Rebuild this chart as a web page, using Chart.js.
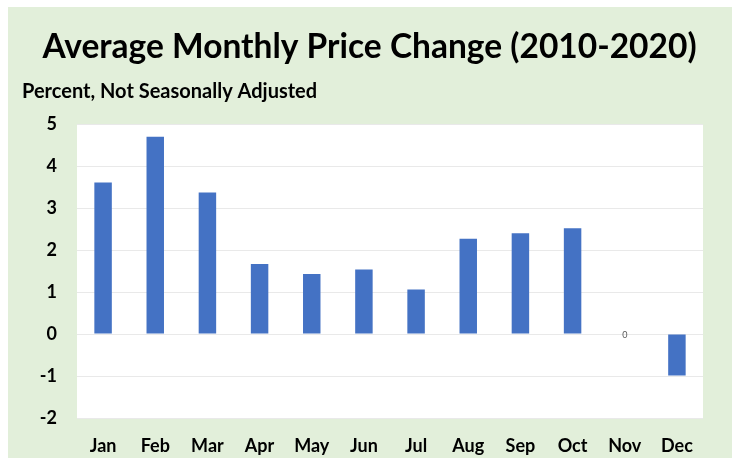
<!DOCTYPE html>
<html>
<head>
<meta charset="utf-8">
<script src="https://cdn.jsdelivr.net/npm/chart.js@4"></script>
<style>
  html, body { margin: 0; padding: 0; background: #ffffff; }
  #panel { position: absolute; left: 8px; top: 7px; width: 724px; height: 451px; background: #E2EFDA; }
  #c { display: block; }
</style>
</head>
<body>
<div id="panel"><canvas id="c" width="724" height="451"></canvas></div>
<script>
const months = ["Jan", "Feb", "Mar", "Apr", "May", "Jun", "Jul", "Aug", "Sep", "Oct", "Nov", "Dec"];
const priceChange = [3.61, 4.70, 3.37, 1.67, 1.43, 1.54, 1.06, 2.27, 2.40, 2.52, 0, -0.99];
const titleText = "Average Monthly Price Change (2010-2020)";
const subtitleText = "Percent, Not Seasonally Adjusted";
const yMin = -2, yMax = 5, yStep = 1;

const plotBg = {
  id: 'plotBg',
  beforeDraw(chart) {
    const { ctx, chartArea: a } = chart;
    ctx.save();
    ctx.fillStyle = '#ffffff';
    ctx.fillRect(a.left, a.top, a.right - a.left, a.bottom - a.top);
    ctx.restore();
  }
};

const zeroLabel = {
  id: 'zeroLabel',
  afterDatasetsDraw(chart) {
    const { ctx } = chart;
    const meta = chart.getDatasetMeta(0);
    ctx.save();
    ctx.font = '9px Lato, "Open Sans", sans-serif';
    ctx.fillStyle = '#595959';
    ctx.textAlign = 'center';
    ctx.textBaseline = 'middle';
    chart.data.datasets[0].data.forEach((v, i) => {
      if (v === 0) {
        const el = meta.data[i];
        ctx.fillText(String(v), el.x, el.y + 1);
      }
    });
    ctx.restore();
  }
};

new Chart(document.getElementById('c'), {
  type: 'bar',
  data: {
    labels: months,
    datasets: [{
      data: priceChange,
      backgroundColor: '#4472C4',
      borderWidth: 0,
      categoryPercentage: 1,
      barPercentage: 0.335,
      yAxisID: 'y'
    }]
  },
  options: {
    responsive: false,
    animation: false,
    layout: { padding: { left: 14, right: 15, top: 0, bottom: 0 } },
    plugins: {
      legend: { display: false },
      tooltip: { enabled: false },
      title: {
        display: true,
        text: titleText,
        color: '#000000',
        font: { family: 'Lato, "Open Sans", sans-serif', size: 33.5, weight: 'bold' },
        padding: { top: 20, bottom: 6 },
        align: 'center'
      },
      subtitle: {
        display: true,
        text: subtitleText,
        color: '#000000',
        align: 'start',
        font: { family: 'Lato, "Open Sans", sans-serif', size: 20, weight: 'bold' },
        padding: { top: 6, bottom: 21 }
      }
    },
    scales: {
      x: {
        grid: { display: false, drawTicks: false },
        border: { display: false },
        ticks: {
          color: '#000000',
          font: { family: 'Lato, "Open Sans", sans-serif', size: 18, weight: 'bold' },
          padding: 17
        },
        afterFit(scale) { scale.height = 40; }
      },
      y: {
        min: yMin,
        max: yMax,
        grid: { color: '#E9E9E9', lineWidth: 1, drawTicks: false },
        border: { display: false },
        ticks: {
          stepSize: yStep,
          color: '#000000',
          font: { family: 'Lato, "Open Sans", sans-serif', size: 18, weight: 'bold' },
          padding: 20
        },
        afterFit(scale) { scale.width = 55; }
      },
      yRight: {
        position: 'right',
        display: true,
        grid: { display: false, drawTicks: false },
        border: { display: false },
        ticks: { display: false },
        afterFit(scale) { scale.width = 14; }
      }
    }
  },
  plugins: [plotBg, zeroLabel]
});
</script>
</body>
</html>
